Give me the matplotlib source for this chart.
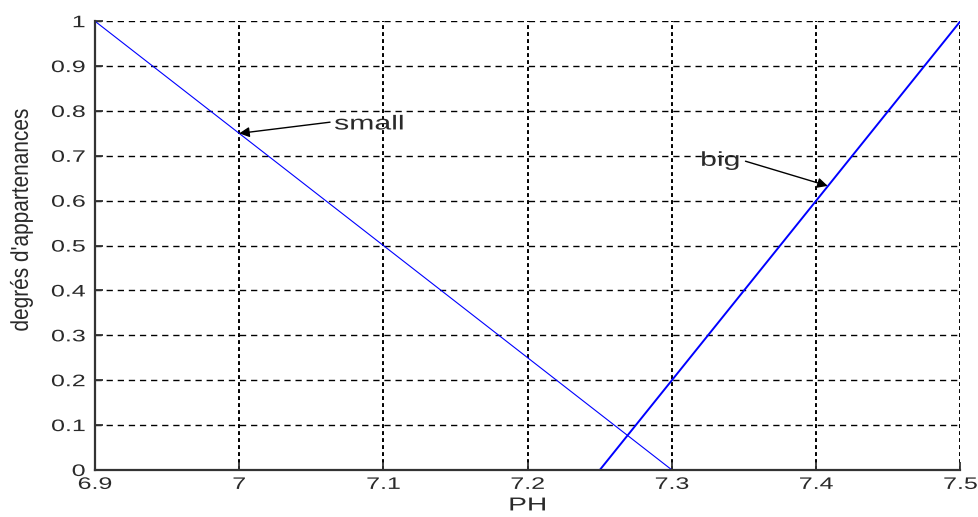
import matplotlib
matplotlib.use("Agg")
import matplotlib.pyplot as plt
from matplotlib.patheffects import AbstractPathEffect
from matplotlib.transforms import Affine2D

plt.rcParams['font.family'] = ['Liberation Sans', 'DejaVu Sans']

# Membership functions for pH
ph_small = [6.9, 7.3]
mu_small = [1.0, 0.0]
ph_big = [7.25, 7.5]
mu_big = [0.0, 1.0]

x_ticks = [6.9, 7.0, 7.1, 7.2, 7.3, 7.4, 7.5]
x_tick_labels = ['6.9', '7', '7.1', '7.2', '7.3', '7.4', '7.5']
y_ticks = [0, 0.1, 0.2, 0.3, 0.4, 0.5, 0.6, 0.7, 0.8, 0.9, 1.0]
y_tick_labels = ['0', '0.1', '0.2', '0.3', '0.4', '0.5', '0.6', '0.7', '0.8', '0.9', '1']


class WideGlyphs(AbstractPathEffect):
    """Draw text glyphs widened horizontally about an anchor edge."""

    def __init__(self, sx, anchor='center'):
        super().__init__()
        self.sx = sx
        self.anchor = anchor

    def draw_path(self, renderer, gc, tpath, affine, rgbFace=None):
        ext = tpath.get_extents(affine)
        if self.anchor == 'left':
            x0 = ext.x0
        elif self.anchor == 'right':
            x0 = ext.x1
        else:
            x0 = 0.5 * (ext.x0 + ext.x1)
        t = affine + Affine2D().translate(-x0, 0).scale(self.sx, 1).translate(x0, 0)
        renderer.draw_path(gc, tpath, t, rgbFace)


TXT = '#2a2a2a'

fig = plt.figure(figsize=(9.79, 5.17), dpi=100)
ax = fig.add_axes([0.097, 0.091, 0.884, 0.868])

ax.plot(ph_small, mu_small, color='#0000ff', lw=0.8)
ax.plot(ph_big, mu_big, color='#0000ff', lw=1.4)

ax.set_xlim(6.9, 7.5)
ax.set_ylim(0, 1)
ax.set_xticks(x_ticks)
ax.set_xticklabels(x_tick_labels)
ax.set_yticks(y_ticks)
ax.set_yticklabels(y_tick_labels)

# grid: dotted verticals, dashed horizontals
for xv in x_ticks[1:]:
    ax.axvline(xv, color='black', lw=1.4, ls=(0, (2.0, 1.6)), zorder=0)
for yv in y_ticks[1:]:
    ax.axhline(yv, color='black', lw=1.0, ls=(0, (4.5, 3.5)), zorder=0)

for s in ['top', 'right']:
    ax.spines[s].set_visible(False)
for s in ['left', 'bottom']:
    ax.spines[s].set_linewidth(1.6)
    ax.spines[s].set_color('#333333')

ax.tick_params(direction='in', length=6, width=1.3, labelsize=12, colors='#333333',
               labelcolor=TXT)
ax.tick_params(axis='y', pad=7)
ax.tick_params(axis='x', pad=5)

for tk in ax.yaxis.get_major_ticks():
    tk.label1.set_path_effects([WideGlyphs(1.5, 'right')])
for tk in ax.xaxis.get_major_ticks():
    tk.label1.set_path_effects([WideGlyphs(1.5, 'center')])

xl = ax.set_xlabel('PH', fontsize=13.5, color=TXT, labelpad=4)
xl.set_path_effects([WideGlyphs(1.5, 'center')])
yl = ax.set_ylabel("degrés d'appartenances", fontsize=15, color=TXT)
yl.set_path_effects([WideGlyphs(1.17, 'center')])
ax.yaxis.set_label_coords(-0.074, 0.557)

# annotation labels and their arrows
for txt, pos in [('small', (7.066, 0.771)), ('big', (7.320, 0.690))]:
    t = ax.text(pos[0], pos[1], txt, fontsize=14.5, color=TXT, va='center', ha='left')
    t.set_path_effects([WideGlyphs(1.5, 'left')])

arrow_kw = dict(arrowstyle='-|>', color='black', lw=1.0, mutation_scale=15,
                shrinkA=0, shrinkB=0)
ax.annotate('', xy=(7.0, 0.75), xytext=(7.063, 0.775), arrowprops=arrow_kw)
ax.annotate('', xy=(7.408, 0.633), xytext=(7.351, 0.688), arrowprops=arrow_kw)

fig.savefig('out.png', dpi=100, facecolor='white')
